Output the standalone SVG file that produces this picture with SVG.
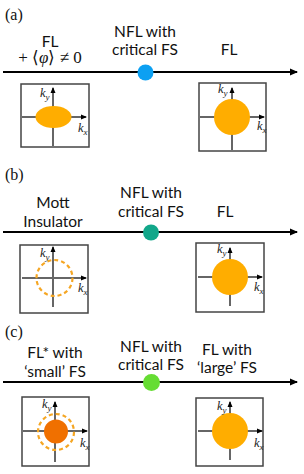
<svg xmlns="http://www.w3.org/2000/svg" width="304" height="474" viewBox="0 0 304 474">
<style>
.t{font-family:Lato,"Open Sans","Liberation Sans",sans-serif;font-size:15.5px;fill:#111;text-anchor:middle}
.p{font-family:"Liberation Serif",serif;font-size:16px;fill:#111}
.m{font-family:"Liberation Serif",serif;font-size:17px;fill:#111;text-anchor:middle}
.k{font-family:"Liberation Serif",serif;font-style:italic;font-size:12.5px;fill:#222}
.main{stroke:#000;stroke-width:2;fill:none}
.box{fill:#fff;stroke:#444;stroke-width:1.5}
.ax{stroke:#666;stroke-width:2;fill:none}
.fs{fill:#ffad00}
.dash{fill:none;stroke:#f5a623;stroke-width:2.2;stroke-dasharray:4 3}
</style>
<defs>
<marker id="arr" markerWidth="8" markerHeight="8" refX="7" refY="4" orient="auto" markerUnits="userSpaceOnUse">
<path d="M0,0.5 L8,4 L0,7.5 Z" fill="#000"/>
</marker>
<marker id="sa" markerWidth="6" markerHeight="6" refX="5" refY="3" orient="auto" markerUnits="userSpaceOnUse">
<path d="M0,0.5 L6,3 L0,5.5 Z" fill="#000"/>
</marker>
</defs>

<g id="connectors">
<line class="main" x1="3" y1="72" x2="297" y2="72" marker-end="url(#arr)"/>
<line class="main" x1="3" y1="232" x2="297" y2="232" marker-end="url(#arr)"/>
<line class="main" x1="3" y1="382" x2="297" y2="382" marker-end="url(#arr)"/>
</g>

<!-- Panel (a) -->
<text class="p" x="5" y="20">(a)</text>
<g id="a-left-label">
<text class="t" x="50" y="47">FL</text>
<text class="m" x="50" y="63">+ ⟨<tspan font-style="italic">φ</tspan>⟩ ≠ 0</text>
</g>
<g id="a-critical">
<text class="t" x="145" y="37">NFL with</text>
<text class="t" x="145" y="55">critical FS</text>
<circle cx="145.5" cy="72.5" r="8" fill="#0ca0f2"/>
</g>
<g id="a-right-label">
<text class="t" x="229" y="55">FL</text>
</g>
<g id="a-left-box">
<rect class="box" x="21" y="84" width="68" height="63"/>
<line class="ax" x1="53" y1="146" x2="53" y2="88" marker-end="url(#sa)"/>
<line class="ax" x1="22" y1="117" x2="86" y2="117" marker-end="url(#sa)"/>
<ellipse class="fs" cx="53.5" cy="117" rx="18" ry="11"/>
<text class="k" x="40" y="97">k<tspan font-size="9" dy="3">y</tspan></text>
<text class="k" x="78" y="132">k<tspan font-size="9" dy="3">x</tspan></text>
</g>
<g id="a-right-box">
<rect class="box" x="199" y="83" width="67" height="68"/>
<line class="ax" x1="232" y1="150" x2="232" y2="88" marker-end="url(#sa)"/>
<line class="ax" x1="200" y1="117" x2="264" y2="117" marker-end="url(#sa)"/>
<circle class="fs" cx="232" cy="117" r="18"/>
<text class="k" x="218" y="93">k<tspan font-size="9" dy="3">y</tspan></text>
<text class="k" x="257" y="130">k<tspan font-size="9" dy="3">x</tspan></text>
</g>

<!-- Panel (b) -->
<text class="p" x="5" y="180">(b)</text>
<g id="b-left-label">
<text class="t" x="53" y="208">Mott</text>
<text class="t" x="53" y="227">Insulator</text>
</g>
<g id="b-critical">
<text class="t" x="151" y="198">NFL with</text>
<text class="t" x="151" y="217">critical FS</text>
<circle cx="151" cy="232.5" r="8" fill="#12a78a"/>
</g>
<g id="b-right-label">
<text class="t" x="225" y="217">FL</text>
</g>
<g id="b-left-box">
<rect class="box" x="20" y="245" width="68" height="68"/>
<line class="ax" x1="53" y1="307" x2="53" y2="247" marker-end="url(#sa)"/>
<line class="ax" x1="22" y1="278" x2="86" y2="278" marker-end="url(#sa)"/>
<circle class="dash" cx="54.5" cy="278" r="18"/>
<text class="k" x="40" y="257">k<tspan font-size="9" dy="3">y</tspan></text>
<text class="k" x="78" y="292">k<tspan font-size="9" dy="3">x</tspan></text>
</g>
<g id="b-right-box">
<rect class="box" x="196" y="243" width="68" height="69"/>
<line class="ax" x1="230" y1="306" x2="230" y2="248" marker-end="url(#sa)"/>
<line class="ax" x1="198" y1="277" x2="262" y2="277" marker-end="url(#sa)"/>
<circle class="fs" cx="230" cy="277" r="18"/>
<text class="k" x="217" y="253">k<tspan font-size="9" dy="3">y</tspan></text>
<text class="k" x="254" y="291">k<tspan font-size="9" dy="3">x</tspan></text>
</g>

<!-- Panel (c) -->
<text class="p" x="5" y="337">(c)</text>
<g id="c-left-label">
<text class="t" x="55" y="358">FL* with</text>
<text class="t" x="55" y="377">‘small’ FS</text>
</g>
<g id="c-critical">
<text class="t" x="151" y="352">NFL with</text>
<text class="t" x="151" y="370">critical FS</text>
<circle cx="151.5" cy="382.5" r="8.5" fill="#66dd33"/>
</g>
<g id="c-right-label">
<text class="t" x="227" y="355">FL with</text>
<text class="t" x="227" y="373">‘large’ FS</text>
</g>
<g id="c-left-box">
<rect class="box" x="22" y="397" width="67" height="69"/>
<line class="ax" x1="55" y1="462" x2="55" y2="402" marker-end="url(#sa)"/>
<line class="ax" x1="23" y1="431" x2="87" y2="431" marker-end="url(#sa)"/>
<circle class="dash" cx="56" cy="432" r="18"/>
<circle cx="56" cy="431.5" r="12" fill="#f07000"/>
<text class="k" x="42" y="408">k<tspan font-size="9" dy="3">y</tspan></text>
<text class="k" x="80" y="447">k<tspan font-size="9" dy="3">x</tspan></text>
</g>
<g id="c-right-box">
<rect class="box" x="196" y="398" width="67" height="68"/>
<line class="ax" x1="230" y1="460" x2="230" y2="402" marker-end="url(#sa)"/>
<line class="ax" x1="198" y1="431" x2="262" y2="431" marker-end="url(#sa)"/>
<circle class="fs" cx="230" cy="431" r="18"/>
<text class="k" x="217" y="410">k<tspan font-size="9" dy="3">y</tspan></text>
<text class="k" x="254" y="447">k<tspan font-size="9" dy="3">x</tspan></text>
</g>
</svg>
